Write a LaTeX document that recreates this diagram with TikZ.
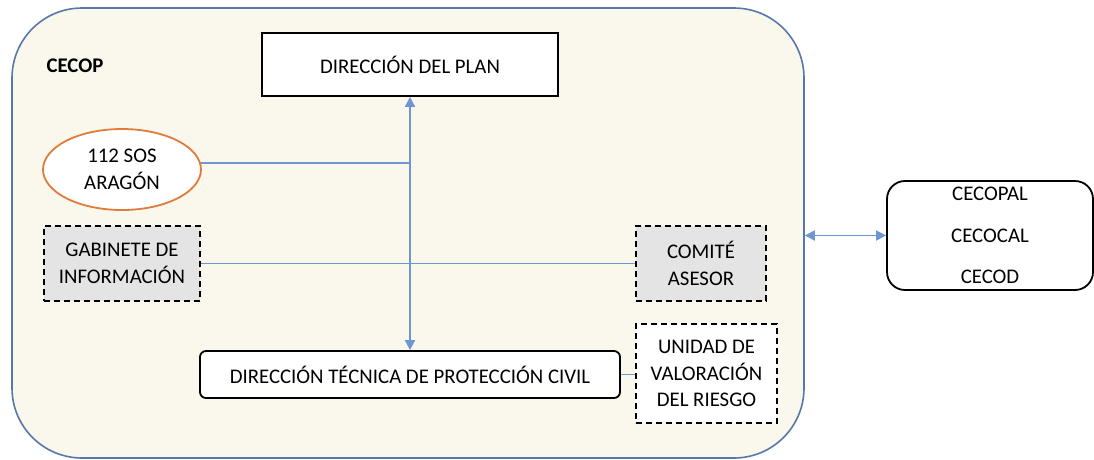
\documentclass[tikz,border=0pt]{standalone}
\usepackage{fontspec}
\setmainfont{Carlito}
\usepackage{tikz}
\usetikzlibrary{shapes,arrows.meta}
\definecolor{cream}{RGB}{250,247,236}
\definecolor{framblue}{RGB}{88,120,172}
\definecolor{linkblue}{RGB}{112,150,210}
\definecolor{sosorange}{RGB}{224,123,57}
\definecolor{boxgray}{RGB}{228,228,228}
\newcommand{\boxfont}{\fontsize{20.8}{26.7}\selectfont}
\tikzstyle{frame} = [rectangle, draw=framblue, fill=cream, line width=1.6pt,
    rounded corners=70pt, inner sep=0pt]
\tikzstyle{block} = [rectangle, draw, fill=white, line width=1.8pt, inner sep=0pt,
    align=center, font=\boxfont]
\tikzstyle{dashblock} = [block, dash pattern=on 6pt off 4pt]
\tikzstyle{line} = [draw, linkblue, line width=1.8pt]
\tikzstyle{twoway} = [line, {Triangle[length=10pt,width=10pt]}-{Triangle[length=10pt,width=10pt]}]

\begin{document}
\begin{tikzpicture}[x=1pt, y=-1pt]
  \useasboundingbox (0,0) rectangle (1094,459);
   % Place nodes
    \node [frame, minimum width=792pt, minimum height=450pt] (cecop) at (408,233) {};
    \node [font=\boxfont\bfseries] (cecoplabel) at (75,66) {CECOP};
    \node [block, minimum width=296pt, minimum height=63pt] (plan) at (410,64.5) {DIRECCIÓN DEL PLAN};
    \node [block, ellipse, draw=sosorange, minimum width=158pt, minimum height=81pt] (sos) at (122,169.5) {112 SOS\\ARAGÓN};
    \node [dashblock, fill=boxgray, minimum width=156pt, minimum height=75pt] (gabinete) at (122,263.5) {GABINETE DE\\INFORMACIÓN};
    \node [dashblock, fill=boxgray, minimum width=130pt, minimum height=75pt] (comite) at (701,263.5) {COMITÉ\\ASESOR};
    \node [block, rounded corners=6pt, minimum width=420pt, minimum height=47pt] (tecnica) at (410,374.5) {DIRECCIÓN TÉCNICA DE PROTECCIÓN CIVIL};
    \node [dashblock, minimum width=141pt, minimum height=99pt] (unidad) at (706.5,373.5) {UNIDAD DE\\VALORACIÓN\\DEL RIESGO};
    \node [block, rounded corners=18pt, minimum width=206pt, minimum height=109pt,
      font={\fontsize{20.8}{41.5}\selectfont}] (centros) at (990,235.5) {CECOPAL\\CECOCAL\\CECOD};
   % Draw edges
    \path [twoway] (plan.south) -- (tecnica.north);
    \path [line] (sos.5) -- (sos.5 -| plan.south);
    \path [line] (gabinete.east) -- (comite.west);
    \path [line] (tecnica.east) -- (tecnica.east -| unidad.west);
    \path [twoway] (cecop.east |- centros.west) -- (centros.west);
\end{tikzpicture}
\end{document}
